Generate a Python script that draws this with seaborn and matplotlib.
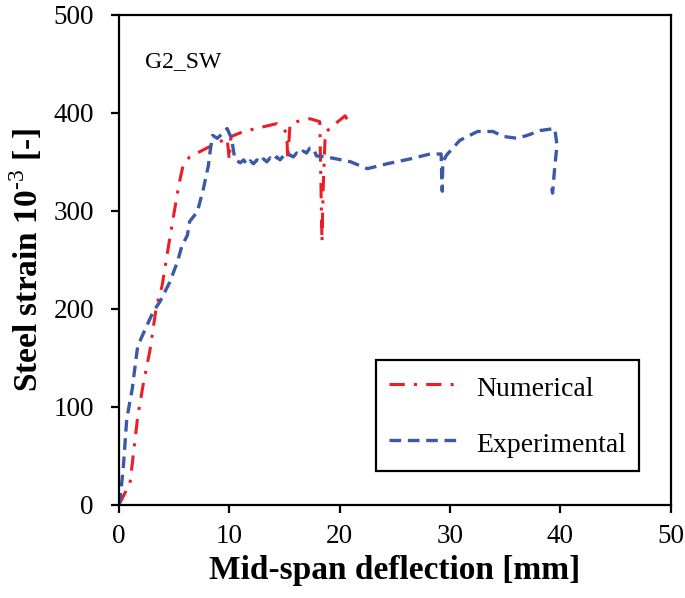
import matplotlib
matplotlib.use('Agg')
import matplotlib.pyplot as plt  # Draw chart
import pandas as pd  # Hold dataframe
import seaborn as sns  # Draw lines

# Numerical curve (red dash-dot)
num_x = [0.0, 0.1, 1.0, 1.7, 2.2, 2.8, 3.4, 3.9, 4.4, 4.8, 5.4, 5.8, 6.4, 8.3,
         9.8, 10.0, 10.1, 10.2, 11.3, 12.8, 14.3, 15.2, 15.3, 15.4, 15.5, 16.1,
         17.3, 18.2, 18.3, 18.4, 18.5, 18.7, 19.4, 20.5, 20.8]
num_y = [0, 2, 22, 90, 123, 157, 203, 223, 258, 285, 325, 346, 355, 366,
         374, 352, 372, 376, 381, 385, 389, 380, 352, 370, 388, 391,
         394, 391, 330, 268, 320, 380, 387, 397, 391]

# Experimental curve (blue dashed)
exp_x = [0.0, 0.1, 0.4, 0.7, 1.2, 1.5, 1.7, 2.5, 3.1, 3.7, 4.6, 5.3, 5.7, 6.2,
         6.4, 7.1, 7.6, 8.1, 8.3, 8.5, 8.9, 9.3, 9.8, 10.2, 10.5, 10.7, 11.0,
         11.3, 11.6, 11.9, 12.2, 12.5, 12.8, 13.1, 13.4, 13.7, 14.0, 14.3, 14.6,
         14.9, 15.2, 15.5, 15.8, 16.1, 16.4, 16.7, 17.0, 17.3, 17.6, 17.9, 18.8,
         19.7, 21.0, 22.5, 24.3, 26.4, 28.2, 29.2, 29.3, 29.35, 29.7, 30.9,
         32.5, 33.9, 34.8, 36.1, 37.0, 38.2, 39.5, 39.7, 39.5, 39.3, 39.2]
exp_y = [0, 5, 39, 87, 118, 145, 162, 182, 197, 207, 227, 248, 264, 275,
         289, 299, 320, 346, 364, 377, 374, 378, 384, 374, 353, 351, 349,
         352, 347, 351, 348, 352, 349, 353, 350, 354, 351, 355, 352,
         356, 354, 357, 355, 359, 357, 361, 359, 364, 364, 356, 355,
         353, 350, 343, 348, 353, 358, 358, 320, 350, 357, 372,
         381, 381, 376, 374, 377, 382, 384, 367, 345, 318, 325]

x_ticks = [0, 10, 20, 30, 40, 50]
y_ticks = [0, 100, 200, 300, 400, 500]

num_df = pd.DataFrame({'x': num_x, 'y': num_y})
exp_df = pd.DataFrame({'x': exp_x, 'y': exp_y})

sns.set_style('ticks')
plt.rcParams['font.family'] = ['Liberation Serif', 'DejaVu Serif']
plt.rcParams['mathtext.fontset'] = 'custom'
plt.rcParams['mathtext.rm'] = 'Liberation Serif'
plt.rcParams['mathtext.bf'] = 'Liberation Serif:bold'
plt.rcParams['text.color'] = 'black'
plt.rcParams['axes.labelcolor'] = 'black'

fig = plt.figure(figsize=(6.85, 5.98), dpi=100)
ax = fig.add_axes([0.1737, 0.1563, 0.8053, 0.8187])

red = '#ee1c25'
blue = '#3c59a8'
sns.lineplot(data=num_df, x='x', y='y', ax=ax, sort=False, estimator=None,
             color=red, lw=2.2, dashes=False, label='Numerical')
sns.lineplot(data=exp_df, x='x', y='y', ax=ax, sort=False, estimator=None,
             color=blue, lw=2.4, label='Experimental')
ax.lines[0].set_dashes([5, 3, 1, 3])
ax.lines[1].set_dashes([3.5, 2])

ax.set_xlim(0, 50)
ax.set_ylim(0, 500)
ax.set_xticks(x_ticks)
ax.set_yticks(y_ticks)
ax.tick_params(direction='out', length=6, width=1.6, labelsize=19.5,
               colors='black')
ax.tick_params(axis='y', pad=12)
ax.tick_params(axis='x', pad=8)
for s in ax.spines.values():
    s.set_linewidth(1.6)
    s.set_color('black')

ax.set_xlabel('Mid-span deflection [mm]', fontsize=24, fontweight='bold',
              labelpad=4)
ax.set_ylabel('Steel strain 10$^{\\text{-3}}$ [-]', fontsize=24,
              fontweight='bold', labelpad=6)

ax.text(2.4, 452, 'G2_SW', fontsize=17, va='center')

leg = ax.legend(loc='upper left', bbox_to_anchor=(0.466, 0.296),
                fontsize=20, frameon=True, fancybox=False,
                edgecolor='black', handlelength=2.6, handletextpad=0.55,
                handleheight=1.2, labelspacing=0.97, borderpad=0.45,
                borderaxespad=0)
leg.get_frame().set_linewidth(1.6)
leg.get_frame().set_alpha(1)

fig.savefig('out.png', dpi=100)
